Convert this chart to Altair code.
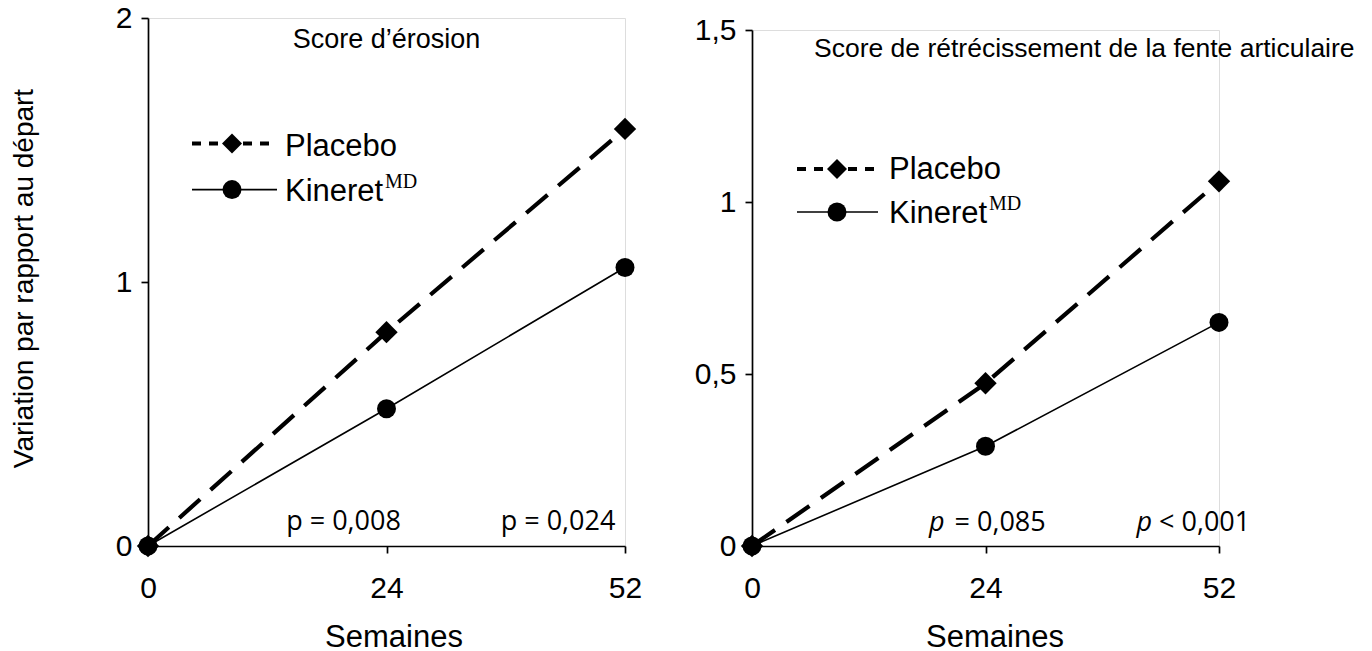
import altair as alt
import pandas as pd

# ---- data ----
weeks = ["0", "24", "52"]
placebo_erosion = [0.0, 0.81, 1.58]
kineret_erosion = [0.0, 0.52, 1.055]
placebo_jsn = [0.0, 0.473, 1.06]
kineret_jsn = [0.0, 0.29, 0.65]
y_ticks_erosion = [0, 1, 2]
y_ticks_jsn = [0, 0.5, 1, 1.5]
title_erosion = "Score d’érosion"
title_jsn = "Score de rétrécissement de la fente articulaire"
p_erosion = ["p = 0,008", "p = 0,024"]
p_jsn_rest = ["= 0,085", "< 0,001"]
legend_placebo = "Placebo"
legend_kineret = "Kineret"
legend_sup = "MD"
x_title = "Semaines"
y_title = "Variation par rapport au départ"

SANS = "Liberation Sans"
SERIF = "Liberation Serif"
PFONT = "Open Sans"


def txt(text, x, y, size, font=SANS, align="left", baseline="alphabetic", style="normal"):
    return alt.Chart(pd.DataFrame({"t": [text]})).mark_text(
        font=font, fontSize=size, align=align, baseline=baseline,
        fontStyle=style, color="black"
    ).encode(x=alt.value(x), y=alt.value(y), text="t:N")


def panel(placebo, kineret, ymax, yticks, W, H, yaxis_title, comma, xtitle_dx, xtitle_y):
    xscale = alt.Scale(type="point", padding=0, domain=weeks)
    xaxis = alt.Axis(
        title=x_title, labelAngle=0, labelFont=SANS, labelFontSize=30, labelColor="black",
        labelPadding=20, domainColor="black", domainWidth=1.7, tickColor="black",
        tickWidth=1.7, tickSize=7, grid=False, titleFont=SANS, titleFontSize=31,
        titleFontWeight="normal", titleColor="black", titleX=W / 2 + xtitle_dx,
        titleY=xtitle_y, titleBaseline="alphabetic", titleAlign="center",
    )
    yargs = dict(
        values=yticks, labelFont=SANS, labelFontSize=30, labelColor="black",
        labelPadding=9, domainColor="black", domainWidth=1.7, tickColor="black",
        tickWidth=1.7, tickSize=7, grid=False, format=".1~f", labelOverlap=False,
    )
    if comma:
        yargs["labelExpr"] = "replace(datum.label, '.', ',')"
    if yaxis_title:
        yargs.update(title=yaxis_title, titleFont=SANS, titleFontSize=28,
                     titleFontWeight="normal", titleColor="black", titleX=-124,
                     titleY=H / 2 - 4, titleAngle=-90, titleAlign="center",
                     titleBaseline="middle")
    else:
        yargs["title"] = None
    yaxis = alt.Axis(**yargs)
    yscale = alt.Scale(domain=[0, ymax], nice=False, zero=True)
    xenc = alt.X("week:O", scale=xscale, axis=xaxis)
    yenc = alt.Y("value:Q", scale=yscale, axis=yaxis)

    dp = pd.DataFrame({"week": weeks, "value": placebo})
    dk = pd.DataFrame({"week": weeks, "value": kineret})

    p_line = alt.Chart(dp).mark_line(color="black", strokeWidth=4.2, strokeDash=[28, 14]).encode(x=xenc, y=yenc)
    k_line = alt.Chart(dk).mark_line(color="black", strokeWidth=1.6).encode(x=xenc, y=yenc)
    p_pts = alt.Chart(dp).mark_point(shape="diamond", filled=True, size=500, color="black", opacity=1).encode(x=xenc, y=yenc)
    k_pts = alt.Chart(dk).mark_point(shape="circle", filled=True, size=360, color="black", opacity=1).encode(x=xenc, y=yenc)
    return [k_line, p_line, p_pts, k_pts], xenc, yenc


def legend(x0, x1, mx, yp, yk, tx, bp, bk, mdx, mdb):
    pr = alt.Chart(pd.DataFrame({"a": [0]})).mark_rule(color="black", strokeWidth=4, strokeDash=[9, 8]).encode(
        x=alt.value(x0), x2=alt.value(x1), y=alt.value(yp))
    kr = alt.Chart(pd.DataFrame({"a": [0]})).mark_rule(color="black", strokeWidth=1.6).encode(
        x=alt.value(x0), x2=alt.value(x1), y=alt.value(yk))
    pm = alt.Chart(pd.DataFrame({"a": [0]})).mark_point(shape="diamond", filled=True, size=400, color="black", opacity=1).encode(
        x=alt.value(mx), y=alt.value(yp))
    km = alt.Chart(pd.DataFrame({"a": [0]})).mark_point(shape="circle", filled=True, size=360, color="black", opacity=1).encode(
        x=alt.value(mx), y=alt.value(yk))
    return [pr, kr, pm, km,
            txt(legend_placebo, tx, bp, 31),
            txt(legend_kineret, tx, bk, 31),
            txt(legend_sup, mdx, mdb, 20, font=SERIF)]


def cat_text(text, week, y, dx, align, xenc, style="normal"):
    return alt.Chart(pd.DataFrame({"week": [week], "t": [text]})).mark_text(
        font=PFONT, fontSize=27, align=align, baseline="alphabetic", dx=dx,
        fontStyle=style, color="black"
    ).encode(x=xenc, y=alt.value(y), text="t:N")


def spacer():
    return alt.Chart(pd.DataFrame({"a": [0]})).mark_point(size=0, opacity=0).encode(
        x=alt.value(0), y=alt.value(0)).properties(width=1, height=1)


# ---- left panel ----
WL, HL = 477, 528
layers_l, xl, yl = panel(placebo_erosion, kineret_erosion, 2, y_ticks_erosion, WL, HL, y_title, False, 7, 100)
left = alt.layer(
    *layers_l,
    txt(title_erosion, WL / 2, 30, 27, align="center"),
    *legend(44, 129, 84, 125.6, 171.6, 137, 137.6, 182.6, 237, 169.6),
    cat_text(p_erosion[0], "24", HL - 15.7, -43, "center", xl),
    cat_text(p_erosion[1], "52", HL - 15.7, -67, "center", xl),
).properties(width=WL, height=HL)

# ---- right panel ----
WR, HR = 467, 516
layers_r, xr, yr = panel(placebo_jsn, kineret_jsn, 1.5, y_ticks_jsn, WR, HR, None, True, 9, 100)
right = alt.layer(
    *layers_r,
    txt(title_jsn, 62, 26.5, 26.5, align="left"),
    *legend(45, 126, 85, 139, 182, 137, 149, 192.5, 237, 179.5),
    cat_text("p", "24", HR - 15, -41, "right", xr, style="italic"),
    cat_text(p_jsn_rest[0], "24", HR - 15, -31, "left", xr),
    cat_text("p", "52", HR - 15, -67, "right", xr, style="italic"),
    cat_text(p_jsn_rest[1], "52", HR - 15, -60, "left", xr),
).properties(width=WR, height=HR)

left_col = alt.vconcat(spacer(), left, spacing=0)
right_col = alt.vconcat(spacer(), right, spacing=12)

chart = alt.hconcat(left_col, right_col, spacing=50).properties(
    padding={"left": 1, "top": -9, "right": 0, "bottom": 14}
).configure_view(stroke=None).configure(font=SANS)

chart.save("out.html", embed_options={"renderer": "svg", "actions": False})
